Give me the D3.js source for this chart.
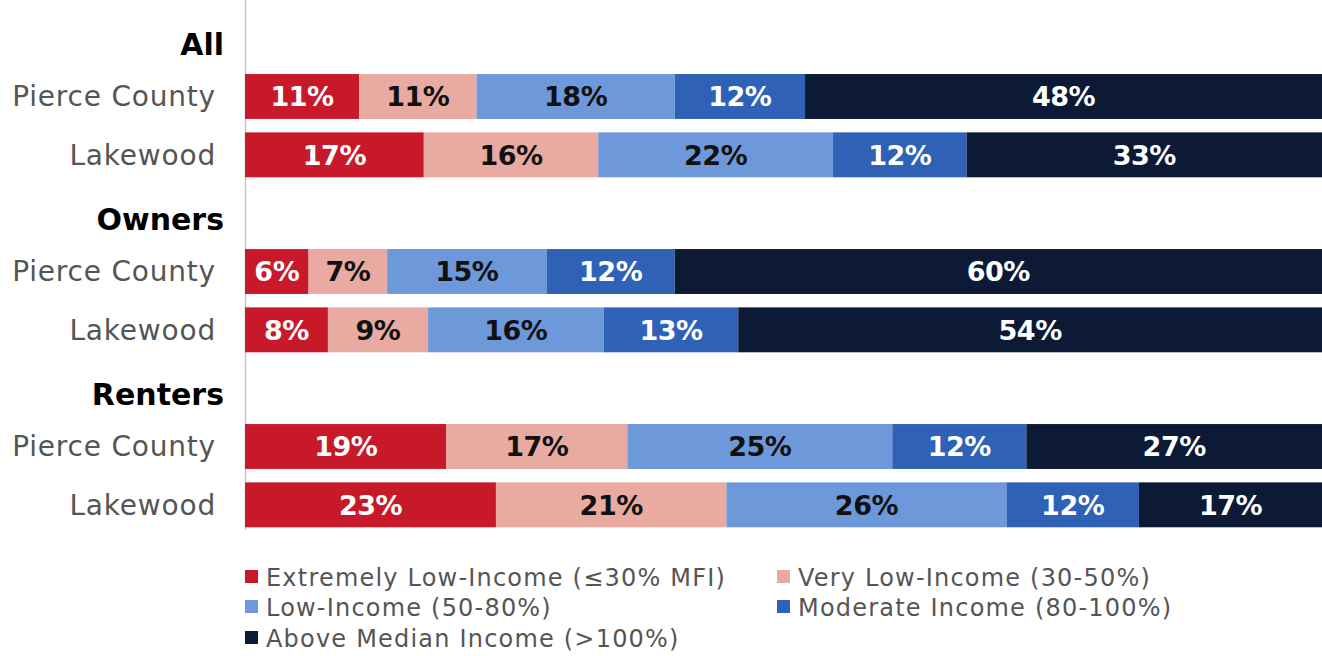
<!DOCTYPE html>
<html><head><meta charset="utf-8">
<script src="https://cdn.jsdelivr.net/npm/d3@7"></script>
<style>
html,body{margin:0;padding:0;background:#fff;}
svg{display:block;}
</style></head>
<body><div id="chart"></div>
<script>
const groups = ["All", "Owners", "Renters"];
const places = ["Pierce County", "Lakewood"];
const seriesNames = [
  "Extremely Low-Income (≤30% MFI)",
  "Very Low-Income (30-50%)",
  "Low-Income (50-80%)",
  "Moderate Income (80-100%)",
  "Above Median Income (>100%)"
];
const seriesColors = ["#c8192b", "#e8aaa1", "#6d98d9", "#2f62b6", "#0c1a36"];
const labelColors = ["#fff", "#111", "#111", "#fff", "#fff"];
// values per group (rows: Pierce County, Lakewood), percent shares
const allValues = [
  [10.6, 10.9, 18.4, 12.1, 48.0],
  [16.6, 16.2, 21.8, 12.4, 33.0]
];
const ownerValues = [
  [5.9, 7.3, 14.8, 11.9, 60.1],
  [7.7, 9.3, 16.3, 12.5, 54.2]
];
const renterValues = [
  [18.7, 16.8, 24.6, 12.45, 27.45],
  [23.3, 21.4, 26.0, 12.3, 17.0]
];
const groupValues = [allValues, ownerValues, renterValues];

const W = 1322, H = 656;
const svg = d3.select("#chart").append("svg").attr("width", W).attr("height", H);

// rows: header + 2 places per group
const rowKeys = [];
groups.forEach(g => { rowKeys.push(g + "|header"); places.forEach(p => rowKeys.push(g + "|" + p)); });

const y = d3.scaleBand().domain(rowKeys).range([9, 534]).paddingInner(0.23).paddingOuter(0.115);
const x = d3.scaleLinear().domain([0, 100]).range([245, 1322]);

// axis line
svg.append("line").attr("x1", x(0) + 0.5).attr("x2", x(0) + 0.5).attr("y1", 0).attr("y2", 530)
  .attr("stroke", "#c8c8c8").attr("stroke-width", 1.5);

const rows = [];
groups.forEach((g, gi) => places.forEach((p, pi) => {
  let acc = 0;
  groupValues[gi][pi].forEach((v, si) => {
    rows.push({key: g + "|" + p, si, x0: acc, x1: acc + v, v});
    acc += v;
  });
}));

svg.append("g").selectAll("rect").data(rows).join("rect")
  .attr("x", d => x(d.x0)).attr("width", d => x(d.x1) - x(d.x0))
  .attr("y", d => y(d.key)).attr("height", y.bandwidth())
  .attr("fill", d => seriesColors[d.si]);

svg.append("g").selectAll("text").data(rows).join("text")
  .attr("x", d => (x(d.x0) + x(d.x1)) / 2)
  .attr("y", d => y(d.key) + y.bandwidth() / 2)
  .attr("dy", "0.36em")
  .attr("text-anchor", "middle")
  .attr("font-family", "DejaVu Sans")
  .attr("font-weight", "bold")
  .attr("font-size", 27)
  .attr("letter-spacing", -0.5)
  .attr("fill", d => labelColors[d.si])
  .text(d => Math.round(d.v) + "%");

// place labels
const placeRows = [];
groups.forEach(g => places.forEach(p => placeRows.push({key: g + "|" + p, p})));
svg.append("g").selectAll("text").data(placeRows).join("text")
  .attr("x", 216).attr("y", d => y(d.key) + y.bandwidth() / 2)
  .attr("dy", "0.35em").attr("text-anchor", "end")
  .attr("font-family", "DejaVu Sans").attr("font-size", 28).attr("letter-spacing", 0.8)
  .attr("fill", "#555").text(d => d.p);

// group headers
svg.append("g").selectAll("text").data(groups).join("text")
  .attr("x", 224).attr("y", g => y(g + "|header") + y.bandwidth() / 2 + 6)
  .attr("dy", "0.36em").attr("text-anchor", "end")
  .attr("font-family", "DejaVu Sans").attr("font-weight", "bold").attr("font-size", 30)
  .attr("fill", "#000").text(g => g);

// legend
const legendPos = [[245, 577], [777, 577], [245, 607], [777, 607], [245, 638]];
const lg = svg.append("g").selectAll("g").data(seriesNames).join("g")
  .attr("transform", (d, i) => `translate(${legendPos[i][0]},${legendPos[i][1]})`);
lg.append("rect").attr("x", 0).attr("y", -7).attr("width", 13).attr("height", 13)
  .attr("fill", (d, i) => seriesColors[i]);
lg.append("text").attr("x", 21).attr("y", 0).attr("dy", "0.36em")
  .attr("font-family", "DejaVu Sans").attr("font-size", 24).attr("letter-spacing", 1.2)
  .attr("fill", "#555").text(d => d);
</script>
</body></html>
